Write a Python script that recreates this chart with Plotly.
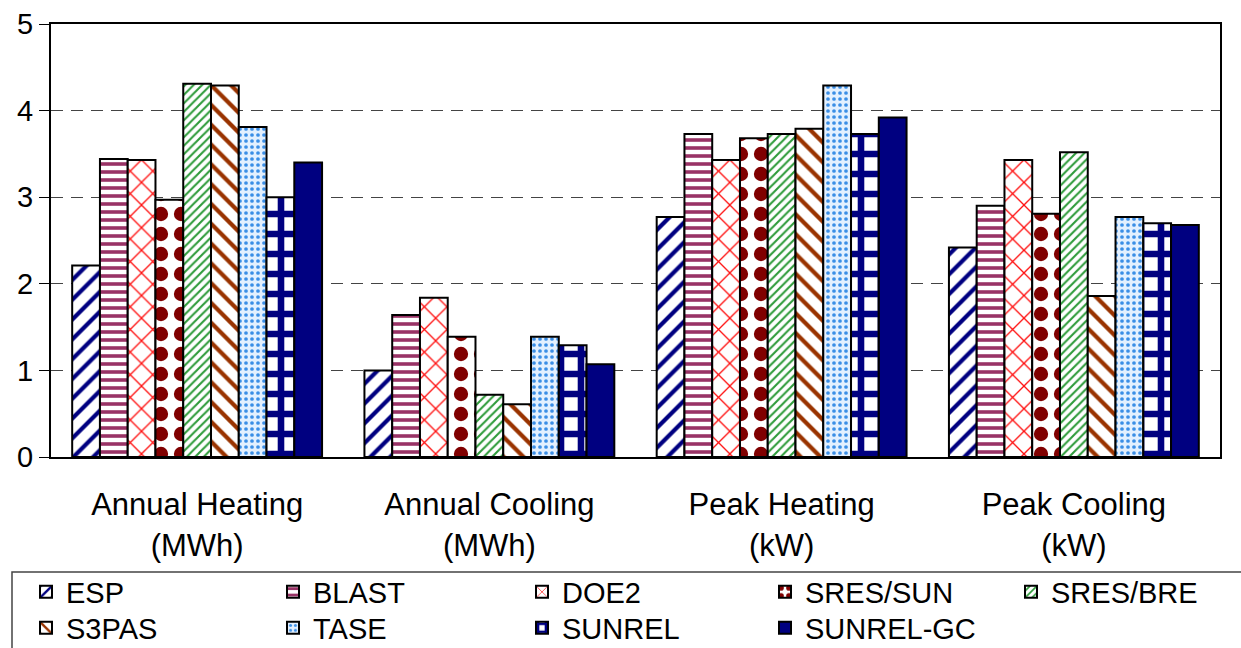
import plotly.graph_objects as go

categories = ["Annual Heating<br>(MWh)", "Annual Cooling<br>(MWh)", "Peak Heating<br>(kW)", "Peak Cooling<br>(kW)"]

esp = [2.21, 1.00, 2.77, 2.42]
blast = [3.44, 1.64, 3.73, 2.90]
doe2 = [3.43, 1.84, 3.43, 3.43]
sres_sun = [2.97, 1.39, 3.68, 2.81]
sres_bre = [4.31, 0.72, 3.73, 3.52]
s3pas = [4.29, 0.61, 3.79, 1.86]
tase = [3.81, 1.39, 4.29, 2.77]
sunrel = [3.00, 1.29, 3.73, 2.70]
sunrel_gc = [3.40, 1.07, 3.92, 2.68]

series_names = ["ESP", "BLAST", "DOE2", "SRES/SUN", "SRES/BRE", "S3PAS", "TASE", "SUNREL", "SUNREL-GC"]
series_values = [esp, blast, doe2, sres_sun, sres_bre, s3pas, tase, sunrel, sunrel_gc]

styles = [
    dict(shape="/", fg="#000080", bg="white", size=14, sol=0.3),
    dict(shape="-", fg="#993366", bg="white", size=8, sol=0.45),
    dict(shape="x", fg="#FF1010", bg="white", size=16, sol=0.16),
    dict(shape=".", fg="#800000", bg="white", size=20, sol=0.4),
    dict(shape="/", fg="#2E9B3A", bg="white", size=6, sol=0.35),
    dict(shape="\\", fg="#993300", bg="white", size=14, sol=0.3),
    dict(shape=".", fg="#3A8EE6", bg="#E3F0FF", size=6, sol=0.3),
    dict(shape="+", fg="#000080", bg="white", size=20, sol=0.55),
    dict(shape="", fg="#000080", bg="#000080", size=8, sol=0.3),
]

FONT = "Arial, Liberation Sans, sans-serif"
L, R, T, B = 51, 21, 24, 191
W, H = 1241, 648
pw = W - L - R
ph = H - T - B

def px_x(p):
    return (p - L) / pw

def px_y(p):
    return (H - B - p) / ph

# legend positions (pixel left of legend box, pixel row center)
leg_lefts = [26, 273, 522, 765, 1011, 26, 273, 522, 765]
leg_rows = [592, 592, 592, 592, 592, 628, 628, 628, 628]

fig = go.Figure()
layout_legends = {}
for i, (name, vals, st) in enumerate(zip(series_names, series_values, styles)):
    lname = "legend" if i == 0 else f"legend{i+1}"
    if st["shape"]:
        marker = dict(color="white", line=dict(color="black", width=2),
                      pattern=dict(shape=st["shape"], fgcolor=st["fg"], bgcolor=st["bg"],
                                   size=st["size"], solidity=st["sol"], fillmode="replace"))
    else:
        marker = dict(color=st["fg"], line=dict(color="black", width=2))
    fig.add_trace(go.Bar(x=categories, y=vals, name=name, marker=marker, legend=lname))
    layout_legends[lname] = dict(
        x=px_x(leg_lefts[i]), y=px_y(leg_rows[i]), xanchor="left", yanchor="middle",
        xref="paper", yref="paper",
        font=dict(family=FONT, size=29, color="black"),
        bgcolor="rgba(0,0,0,0)", borderwidth=0,
    )

fig.update_layout(
    width=W, height=H,
    margin=dict(l=L, r=R, t=T, b=B, pad=0, autoexpand=False),
    plot_bgcolor="white", paper_bgcolor="white",
    barmode="group", bargap=0.145, bargroupgap=0,
    font=dict(family=FONT, size=29, color="black"),
    showlegend=True,
    **layout_legends,
)

fig.update_yaxes(
    range=[0, 5], dtick=1, tick0=0,
    showline=True, mirror=True, linecolor="black", linewidth=2,
    ticks="outside", ticklen=10, tickcolor="black", tickwidth=1,
    showgrid=True, gridcolor="#444444", gridwidth=1, griddash="12px,8px",
    zeroline=False,
    tickfont=dict(family=FONT, size=29, color="black"),
)
fig.update_xaxes(
    showline=True, mirror=True, linecolor="black", linewidth=2,
    ticks="outside", ticklen=19, tickcolor="rgba(0,0,0,0)",
    tickfont=dict(family=FONT, size=31, color="black"),
)

# legend frame
fig.add_shape(type="rect", xref="paper", yref="paper",
              x0=px_x(12), x1=px_x(1260), y0=px_y(572), y1=px_y(670),
              line=dict(color="#444444", width=1.5), fillcolor="rgba(0,0,0,0)", layer="above")

fig.write_html("out.html", config={"displayModeBar": False},
               post_script="document.body.style.margin='0';document.body.style.overflow='hidden';")
